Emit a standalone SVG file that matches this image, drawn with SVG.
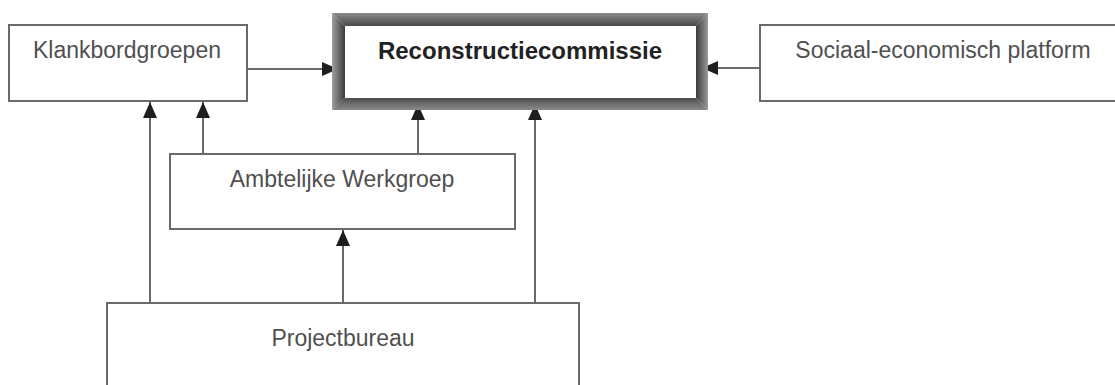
<svg xmlns="http://www.w3.org/2000/svg" width="1115" height="385" viewBox="0 0 1115 385">
<defs>
<style>
.box{fill:#fff;stroke:#6a6a6a;stroke-width:2}
.lbl{font-family:"Liberation Sans",Arial,sans-serif;font-size:23px;fill:#505050;text-anchor:middle}
.bold{font-family:"Liberation Sans",Arial,sans-serif;font-size:24px;font-weight:bold;fill:#222;text-anchor:middle}
.con{stroke:#6a6a6a;stroke-width:2;fill:none;marker-end:url(#ah)}
</style>
<marker id="ah" markerUnits="userSpaceOnUse" markerWidth="16" markerHeight="14" refX="16" refY="7" orient="auto">
<path d="M0,0 L16,7 L0,14 z" fill="#1e1e1e"/>
</marker>
<linearGradient id="gTop" x1="0" y1="0" x2="0" y2="1"><stop offset="0" stop-color="#8c8c8c"/><stop offset="0.5" stop-color="#6a6a6a"/><stop offset="1" stop-color="#4a4a4a"/></linearGradient>
<linearGradient id="gLeft" x1="0" y1="0" x2="1" y2="0"><stop offset="0" stop-color="#a0a0a0"/><stop offset="1" stop-color="#3a3a3a"/></linearGradient>
<linearGradient id="gRight" x1="0" y1="0" x2="1" y2="0"><stop offset="0" stop-color="#3c3c3c"/><stop offset="1" stop-color="#9a9a9a"/></linearGradient>
<linearGradient id="gBot" x1="0" y1="0" x2="0" y2="1"><stop offset="0" stop-color="#4a4a4a"/><stop offset="0.5" stop-color="#6e6e6e"/><stop offset="1" stop-color="#8a8a8a"/></linearGradient>
</defs>
<rect width="1115" height="385" fill="#fff"/>
<g id="connectors">
<line class="con" x1="247" y1="69" x2="338" y2="69"/>
<line class="con" x1="760" y1="68" x2="702" y2="68"/>
<line class="con" x1="150" y1="303" x2="150" y2="102"/>
<line class="con" x1="203" y1="154" x2="203" y2="102"/>
<line class="con" x1="418" y1="154" x2="418" y2="104"/>
<line class="con" x1="535" y1="303" x2="535" y2="104"/>
<line class="con" x1="343" y1="303" x2="343" y2="230"/>
</g>
<g id="klankbordgroepen">
<rect class="box" x="9" y="25" width="238" height="76"/>
<text class="lbl" x="127" y="58">Klankbordgroepen</text>
</g>
<g id="reconstructiecommissie">
<rect x="345" y="26" width="351" height="72" fill="#fff"/>
<polygon points="332,13 708,13 696,26 345,26" fill="url(#gTop)"/>
<polygon points="332,13 345,26 345,98 332,110" fill="url(#gLeft)"/>
<polygon points="708,13 708,110 696,98 696,26" fill="url(#gRight)"/>
<polygon points="332,110 345,98 696,98 708,110" fill="url(#gBot)"/>
<text class="bold" x="520" y="59">Reconstructiecommissie</text>
</g>
<g id="sociaal-economisch-platform">
<rect class="box" x="760" y="25" width="370" height="76"/>
<text class="lbl" x="943" y="58">Sociaal-economisch platform</text>
</g>
<g id="ambtelijke-werkgroep">
<rect class="box" x="170" y="154" width="345" height="75"/>
<text class="lbl" x="342" y="187">Ambtelijke Werkgroep</text>
</g>
<g id="projectbureau">
<rect class="box" x="107" y="303" width="472" height="100"/>
<text class="lbl" x="343" y="346">Projectbureau</text>
</g>
</svg>
